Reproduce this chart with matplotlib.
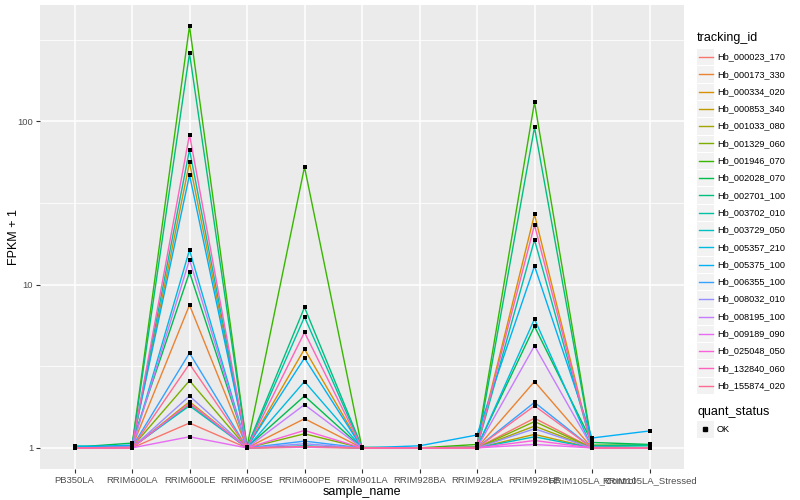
import numpy as np
import matplotlib
matplotlib.use("Agg")
import matplotlib.pyplot as plt
from matplotlib.patches import Rectangle
from matplotlib.lines import Line2D

samples = ["PB350LA", "RRIM600LA", "RRIM600LE", "RRIM600SE", "RRIM600PE", "RRIM901LA",
           "RRIM928BA", "RRIM928LA", "RRIM928LE", "RRIM105LA_Control", "RRIM105LA_Stressed"]

genes = ["Hb_000023_170", "Hb_000173_330", "Hb_000334_020", "Hb_000853_340", "Hb_001033_080",
         "Hb_001329_060", "Hb_001946_070", "Hb_002028_070", "Hb_002701_100", "Hb_003702_010",
         "Hb_003729_050", "Hb_005357_210", "Hb_005375_100", "Hb_006355_100", "Hb_008032_010",
         "Hb_008195_100", "Hb_009189_090", "Hb_025048_050", "Hb_132840_060", "Hb_155874_020"]

# FPKM + 1, one list per gene, in sample order
fpkm = {
    "Hb_000023_170": [1.00, 1.00, 1.42, 1.00, 1.02, 1.00, 1.00, 1.00, 1.52, 1.00, 1.00],
    "Hb_000173_330": [1.00, 1.01, 7.50, 1.00, 1.51, 1.00, 1.00, 1.00, 2.55, 1.00, 1.00],
    "Hb_000334_020": [1.00, 1.01, 56.0, 1.00, 4.03, 1.00, 1.00, 1.01, 26.9, 1.00, 1.00],
    "Hb_000853_340": [1.00, 1.00, 1.92, 1.00, 1.01, 1.00, 1.00, 1.00, 1.21, 1.00, 1.00],
    "Hb_001033_080": [1.00, 1.00, 1.85, 1.00, 1.02, 1.00, 1.00, 1.00, 1.36, 1.00, 1.00],
    "Hb_001329_060": [1.00, 1.01, 2.58, 1.00, 1.22, 1.00, 1.00, 1.00, 1.45, 1.00, 1.00],
    "Hb_001946_070": [1.00, 1.03, 383., 1.02, 52.5, 1.00, 1.00, 1.05, 131., 1.04, 1.04],
    "Hb_002028_070": [1.01, 1.07, 11.9, 1.01, 2.08, 1.00, 1.00, 1.01, 5.55, 1.08, 1.05],
    "Hb_002701_100": [1.02, 1.02, 261., 1.01, 7.26, 1.01, 1.00, 1.01, 92.0, 1.03, 1.04],
    "Hb_003702_010": [1.01, 1.02, 67.0, 1.00, 6.34, 1.00, 1.00, 1.00, 18.8, 1.02, 1.03],
    "Hb_003729_050": [1.03, 1.01, 1.81, 1.00, 1.03, 1.00, 1.00, 1.00, 1.17, 1.00, 1.00],
    "Hb_005357_210": [1.00, 1.01, 16.3, 1.00, 2.55, 1.00, 1.00, 1.00, 6.16, 1.00, 1.00],
    "Hb_005375_100": [1.01, 1.04, 47.0, 1.01, 3.55, 1.00, 1.03, 1.20, 13.0, 1.15, 1.27],
    "Hb_006355_100": [1.00, 1.01, 3.81, 1.00, 1.10, 1.00, 1.00, 1.00, 1.90, 1.00, 1.00],
    "Hb_008032_010": [1.00, 1.00, 2.08, 1.00, 1.06, 1.00, 1.00, 1.00, 1.31, 1.00, 1.00],
    "Hb_008195_100": [1.00, 1.01, 14.2, 1.00, 1.84, 1.00, 1.00, 1.00, 4.22, 1.01, 1.00],
    "Hb_009189_090": [1.00, 1.00, 1.17, 1.00, 1.01, 1.00, 1.00, 1.00, 1.05, 1.00, 1.00],
    "Hb_025048_050": [1.00, 1.00, 1.88, 1.00, 1.28, 1.00, 1.00, 1.00, 1.11, 1.00, 1.00],
    "Hb_132840_060": [1.00, 1.01, 83.0, 1.00, 5.10, 1.00, 1.00, 1.01, 23.2, 1.00, 1.00],
    "Hb_155874_020": [1.00, 1.00, 3.27, 1.00, 1.02, 1.00, 1.00, 1.00, 1.81, 1.00, 1.00],
}

# ggplot2 default hue palette, 20 levels
colors = ["#F8766D", "#EA8331", "#D89000", "#C09B00", "#A3A500", "#7CAE00", "#39B600",
          "#00BB4E", "#00BF7D", "#00C1A3", "#00BFC4", "#00BAE0", "#00B0F6", "#35A2FF",
          "#9590FF", "#C77CFF", "#E76BF3", "#FA62DB", "#FF62BC", "#FF6C91"]

plt.rcParams["font.family"] = ["Liberation Sans", "DejaVu Sans"]
fig = plt.figure(figsize=(8, 5), dpi=100)
W, H = 800, 500
ax = fig.add_axes([40 / W, 1 - 469 / H, (684 - 40) / W, (469 - 5) / H])
ax.set_facecolor("#EBEBEB")

x = np.arange(len(samples))
for g, c in zip(genes, colors):
    ax.plot(x, fpkm[g], color=c, lw=1.0, zorder=2)
for g in genes:
    ax.scatter(x, fpkm[g], marker="s", s=9, color="black", zorder=3, linewidths=0)

ax.set_yscale("log")
allv = np.log10(np.concatenate([fpkm[g] for g in genes]))
lo, hi = allv.min(), allv.max()
pad = 0.05 * (hi - lo)
ax.set_ylim(10 ** (lo - pad), 10 ** (hi + pad))
ax.set_xlim(-0.6, len(samples) - 0.4)

ax.set_yticks([1, 10, 100])
ax.set_yticklabels(["1", "10", "100"])
ax.set_yticks([10 ** 0.5, 10 ** 1.5, 10 ** 2.5], minor=True)
ax.yaxis.set_minor_formatter(plt.NullFormatter())
ax.set_xticks(x)
ax.set_xticklabels(samples)
ax.grid(True, which="major", color="white", lw=1.1, zorder=0)
ax.grid(True, which="minor", axis="y", color="white", lw=0.55, zorder=0)
ax.set_axisbelow(True)
for s in ax.spines.values():
    s.set_visible(False)
ax.tick_params(which="major", length=3, color="#333333", labelsize=6.8, labelcolor="#4D4D4D", pad=2)
ax.tick_params(which="minor", length=0)
ax.set_xlabel("sample_name", fontsize=9, labelpad=1)
ax.set_ylabel("FPKM + 1", fontsize=9)
ax.yaxis.set_label_coords(-20 / 644, 0.5)

# legends, drawn in figure pixels like ggplot's guide boxes
def px(xp, yp):
    return xp / W, 1 - yp / H

fig.text(*px(697, 38), "tracking_id", fontsize=9, va="center")
for i, (g, c) in enumerate(zip(genes, colors)):
    yc = 57 + i * 17.3
    fig.add_artist(Rectangle(px(697, yc + 8.3), 16.5 / W, 16.3 / H, transform=fig.transFigure,
                             facecolor="#F2F2F2", edgecolor="none"))
    fig.add_artist(Line2D([699 / W, 713 / W], [1 - yc / H] * 2, transform=fig.transFigure,
                          color=c, lw=1.0))
    fig.text(*px(717, yc), g, fontsize=6.6, va="center")

fig.text(*px(697, 412), "quant_status", fontsize=9, va="center")
fig.add_artist(Rectangle(px(697, 437.5), 16.5 / W, 16.3 / H, transform=fig.transFigure,
                         facecolor="#F2F2F2", edgecolor="none"))
fig.add_artist(Line2D([705 / W], [1 - 429 / H], transform=fig.transFigure, marker="s",
                      markersize=3, color="black", lw=0))
fig.text(*px(717, 429), "OK", fontsize=6.6, va="center")

fig.savefig("out.png", dpi=100, facecolor="white")
